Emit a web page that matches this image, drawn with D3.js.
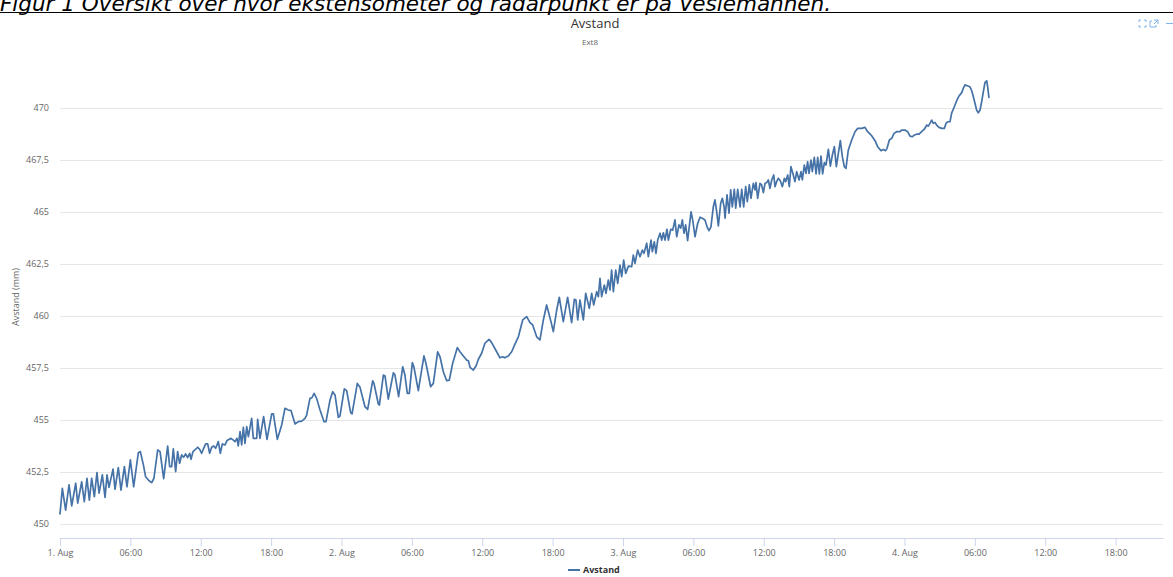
<!DOCTYPE html>
<html>
<head>
<meta charset="utf-8">
<script src="https://cdn.jsdelivr.net/npm/d3@7"></script>
<style>
  body { margin: 0; background: #fff; }
  svg text { font-family: "Open Sans", "DejaVu Sans", sans-serif; }
</style>
</head>
<body>
<script>
const width = 1173;
const height = 577;
const margin = { top: 56, right: 10, bottom: 39, left: 60 };

const startTime = new Date(2019, 7, 1, 0, 0);   // 1. Aug 00:00
const endHours = 94.04;                          // x axis runs to about 4. Aug 22:00
const yMin = 449.327;
const yMax = 472.5;
const yTicks = [450, 452.5, 455, 457.5, 460, 462.5, 465, 467.5, 470];

const chartTitle = 'Avstand';
const chartSubtitle = 'Ext8';
const yTitle = 'Avstand (mm)';
const seriesName = 'Avstand';
const caption = 'Figur 1 Oversikt over hvor ekstensometer og radarpunkt er på Veslemannen.';

// [hours after 1. Aug 00:00, avstand (mm)]
const avstand = [
  [0.00,450.48],[0.20,451.71],[0.48,450.67],[0.77,451.88],[1.00,450.87],[1.34,451.96],[1.51,451.00],[1.85,452.03],
  [2.07,451.07],[2.30,452.20],[2.50,451.15],[2.70,452.20],[2.93,451.31],[3.15,452.47],[3.33,451.48],[3.61,452.36],
  [3.84,451.28],[4.01,452.36],[4.18,451.76],[4.52,452.64],[4.69,451.67],[4.97,452.71],[5.20,451.63],[5.49,452.76],
  [5.71,451.79],[6.00,453.08],[6.28,451.79],[6.68,453.43],[6.85,453.48],[7.11,452.84],[7.30,452.27],[7.59,452.08],
  [7.82,451.99],[8.01,452.20],[8.33,453.56],[8.53,453.48],[8.84,452.18],[9.18,453.75],[9.35,452.76],[9.52,452.76],
  [9.66,453.61],[9.86,452.52],[10.03,453.48],[10.20,452.92],[10.37,453.32],[10.54,453.21],[10.71,453.37],[10.88,453.19],
  [11.06,453.40],[11.17,453.11],[11.34,453.48],[11.74,453.69],[11.91,453.59],[12.08,453.40],[12.25,453.64],[12.42,453.85],
  [12.59,453.85],[12.76,453.40],[12.93,453.69],[13.10,453.75],[13.27,453.64],[13.50,453.96],[13.67,453.40],[13.84,453.85],
  [14.07,453.80],[14.24,454.01],[14.58,454.12],[14.75,454.04],[14.92,453.96],[15.09,454.12],[15.20,453.75],[15.35,454.44],
  [15.49,453.80],[15.63,454.65],[15.77,453.88],[15.92,454.68],[16.06,454.20],[16.34,455.08],[16.48,454.12],[16.77,454.12],
  [16.85,455.03],[17.05,454.12],[17.36,455.16],[17.65,454.07],[18.05,455.29],[18.19,455.29],[18.53,454.07],[18.90,454.76],
  [19.18,455.56],[19.47,455.48],[19.70,455.45],[20.04,454.81],[20.32,454.92],[20.61,454.95],[20.89,455.08],
  [21.03,455.24],[21.31,456.04],[21.48,456.07],[21.66,456.28],[21.88,456.04],[22.17,455.48],[22.51,454.92],[22.68,454.92],
  [23.02,455.96],[23.25,456.36],[23.45,456.20],[23.73,455.13],[23.87,455.19],[24.24,456.50],[24.44,456.41],[24.78,455.35],
  [24.90,455.29],[25.35,456.76],[25.58,456.57],[26.00,455.64],[26.23,455.51],[26.66,456.88],[26.77,456.76],[27.14,455.77],
  [27.23,455.72],[27.57,457.16],[27.71,457.12],[27.99,456.00],[28.42,457.27],[28.56,457.16],[28.87,456.12],[29.22,457.56],
  [29.41,457.16],[29.61,456.28],[29.78,456.28],[30.04,457.76],[30.18,457.53],[30.55,456.41],[31.03,458.08],[31.20,457.73],
  [31.60,456.60],[31.83,456.76],[32.20,458.28],[32.40,458.04],[32.68,457.32],[32.97,456.89],[33.19,456.92],[33.48,457.73],
  [33.88,458.48],[34.10,458.28],[34.39,458.08],[34.67,457.88],[34.82,457.85],[34.96,457.53],[35.24,457.40],[35.47,457.60],
  [35.67,457.92],[35.95,458.21],[36.23,458.69],[36.58,458.88],[36.80,458.72],[37.23,458.28],[37.51,457.99],[37.74,458.04],
  [37.91,457.99],[38.22,458.08],[38.51,458.28],[38.79,458.65],[39.08,459.00],[39.45,459.81],[39.79,459.97],[40.07,459.68],
  [40.30,459.57],[40.64,459.00],[40.92,458.85],[41.21,459.81],
  [41.49,460.53],[41.86,459.73],[42.06,459.25],[42.35,460.29],[42.57,460.90],[42.91,459.73],[43.28,460.90],[43.62,459.68],
  [43.85,460.80],[43.99,460.77],[44.14,459.81],[44.33,460.77],[44.62,459.81],[44.82,461.09],[45.13,460.37],[45.33,461.09],
  [45.50,460.53],[45.76,461.17],[45.90,460.93],[46.04,461.81],[46.18,460.93],[46.41,461.49],[46.55,461.09],[46.75,461.73],
  [46.89,461.25],[47.03,462.21],[47.18,461.17],[47.38,462.21],[47.55,461.57],[47.74,462.45],[47.89,461.89],[48.06,462.69],
  [48.23,462.05],[48.46,462.40],[48.74,462.37],[48.88,462.93],[49.02,462.53],[49.25,463.17],[49.45,462.85],[49.65,463.17],
  [49.79,463.01],[50.02,463.50],[50.16,462.85],[50.39,463.65],[50.50,463.09],[50.67,463.57],[50.81,463.01],[50.96,463.65],
  [51.16,463.98],[51.30,463.65],[51.44,464.00],[51.58,463.65],[51.75,464.17],[51.87,463.65],[52.07,464.17],[52.24,464.13],
  [52.43,464.62],[52.58,463.81],[52.77,464.38],[52.92,464.22],[53.06,464.62],[53.20,463.98],[53.34,464.38],[53.51,463.62],
  [53.80,465.01],[53.94,464.62],[54.14,463.81],[54.37,464.46],[54.57,464.75],[54.76,464.70],[54.99,464.62],[55.19,464.26],
  [55.33,464.10],[55.50,464.29],[55.70,465.25],[55.84,465.58],[55.99,465.01],[56.13,464.33],[56.33,465.42],[56.47,465.66],
  [56.62,465.25],[56.70,464.70],[56.87,465.82],[57.04,464.94],[57.18,466.06],[57.32,465.25],[57.49,466.09],[57.61,465.18],
  [57.78,466.09],[57.98,465.25],[58.12,466.09],[58.29,465.25],[58.46,466.22],[58.60,465.50],[58.77,466.30],[58.91,465.66],
  [59.11,466.38],[59.26,466.06],[59.34,466.41],[59.48,465.66],[59.68,466.38],[59.82,466.30],[59.97,465.93],[60.11,466.38],
  [60.25,466.41],[60.39,466.54],[60.53,466.14],[60.68,466.54],[60.85,466.78],[60.96,466.22],[61.10,466.46],[61.24,466.62],
  [61.41,466.50],[61.59,466.22],[61.76,466.62],[61.87,466.46],[62.04,466.78],[62.18,466.22],[62.32,467.18],[62.52,466.78],
  [62.66,466.46],[62.81,466.94],
  [63.01,466.54],[63.18,466.94],[63.29,466.54],[63.46,467.26],[63.60,466.86],[63.74,467.42],[63.86,466.86],[64.03,467.50],
  [64.14,466.94],[64.31,467.63],[64.46,466.83],[64.60,467.63],[64.74,466.83],[64.88,467.69],[65.02,466.83],[65.17,467.37],
  [65.31,467.26],[65.51,468.01],[65.68,467.21],[65.85,467.74],[66.02,468.14],[66.19,467.18],[66.36,467.82],[66.53,468.43],
  [66.70,467.66],[66.87,467.18],[67.01,467.10],[67.21,467.98],[67.50,468.46],[67.78,468.86],[68.01,469.02],[68.35,469.02],
  [68.63,469.07],[68.86,468.86],[69.20,468.67],[69.49,468.43],[69.71,468.14],[70.00,467.95],[70.19,468.01],[70.39,467.95],
  [70.51,468.06],[70.71,468.46],[70.91,468.54],[71.11,468.78],[71.33,468.86],[71.62,468.86],[71.76,468.94],[72.04,468.94],
  [72.27,468.86],[72.47,468.65],[72.67,468.62],[72.84,468.70],[73.04,468.74],[73.24,468.74],[73.46,468.86],[73.69,468.98],
  [73.89,469.18],[74.03,469.13],[74.17,469.26],[74.32,469.42],[74.46,469.26],[74.60,469.31],[74.74,469.18],[74.94,469.07],
  [75.17,469.02],[75.40,469.02],[75.54,469.26],[75.68,469.34],[75.88,469.34],[76.02,469.75],[76.25,470.06],[76.45,470.35],
  [76.65,470.58],[76.88,470.74],[77.02,470.95],[77.16,471.11],[77.39,471.06],[77.58,471.02],[77.73,470.83],[77.87,470.54],
  [78.01,470.23],[78.15,469.90],[78.29,469.77],[78.44,469.90],[78.58,470.30],[78.72,470.78],[78.86,471.22],[79.01,471.31],
  [79.09,471.02],[79.20,470.51]
];

const lineColor = '#4572a7';
const axisColor = '#ccd6eb';
const gridColor = '#e6e6e6';
const labelColor = '#666666';

const svg = d3.select('body').append('svg')
    .attr('width', width)
    .attr('height', height);

// caption from the surrounding document, cut off at the top like in the source
svg.append('text')
    .attr('x', 0)
    .attr('y', 11)
    .style('font-family', '"DejaVu Sans", sans-serif')
    .style('font-style', 'italic')
    .attr('font-size', '21.5px')
    .attr('fill', '#000')
    .text(caption);

svg.append('line')
    .attr('x1', 0).attr('x2', width)
    .attr('y1', 12.5).attr('y2', 12.5)
    .attr('stroke', '#000')
    .attr('stroke-width', 1);

const hourToDate = h => new Date(+startTime + h * 3600 * 1000);

const x = d3.scaleTime()
    .domain([startTime, hourToDate(endHours)])
    .range([margin.left, width - margin.right]);

const y = d3.scaleLinear()
    .domain([yMin, yMax])
    .range([height - margin.bottom, margin.top]);

const nb = d3.formatLocale({ decimal: ',', thousands: ' ', grouping: [3], currency: ['', ' kr'] });
const yFormat = nb.format('.1~f');

// grid + y labels
const yAxis = svg.append('g')
    .attr('transform', `translate(${margin.left},0)`)
    .call(d3.axisLeft(y)
        .tickValues(yTicks)
        .tickSize(-(width - margin.left - margin.right))
        .tickPadding(11)
        .tickFormat(yFormat));
yAxis.select('.domain').remove();
yAxis.selectAll('.tick line').attr('stroke', gridColor);
yAxis.selectAll('.tick text')
    .attr('fill', labelColor)
    .style('font-size', '9px');

// x axis
const xAxis = svg.append('g')
    .attr('transform', `translate(0,${height - margin.bottom})`)
    .call(d3.axisBottom(x)
        .ticks(d3.timeHour.every(6))
        .tickSize(8)
        .tickPadding(4)
        .tickSizeOuter(0)
        .tickFormat(d => d.getHours() === 0 ? `${d.getDate()}. Aug` : d3.timeFormat('%H:%M')(d)));
xAxis.select('.domain').attr('stroke', axisColor);
xAxis.selectAll('.tick line').attr('stroke', axisColor);
xAxis.selectAll('.tick text')
    .attr('fill', labelColor)
    .style('font-size', '9px');

// the series
const line = d3.line()
    .x(d => x(hourToDate(d[0])))
    .y(d => y(d[1]));

svg.append('path')
    .datum(avstand)
    .attr('d', line)
    .attr('fill', 'none')
    .attr('stroke', lineColor)
    .attr('stroke-width', 1.7)
    .attr('stroke-linejoin', 'round')
    .attr('stroke-linecap', 'round');

// titles
svg.append('text')
    .attr('x', 595)
    .attr('y', 28)
    .attr('text-anchor', 'middle')
    .attr('font-size', '13px')
    .attr('fill', '#333333')
    .text(chartTitle);

svg.append('text')
    .attr('x', 590)
    .attr('y', 45)
    .attr('text-anchor', 'middle')
    .attr('font-size', '8px')
    .attr('fill', labelColor)
    .text(chartSubtitle);

svg.append('text')
    .attr('transform', `translate(19,${(margin.top + height - margin.bottom) / 2}) rotate(-90)`)
    .attr('text-anchor', 'middle')
    .attr('font-size', '9px')
    .attr('fill', labelColor)
    .text(yTitle);

// legend
const legend = svg.append('g').attr('transform', 'translate(568,570)');
legend.append('line')
    .attr('x1', 0).attr('x2', 12)
    .attr('stroke', lineColor)
    .attr('stroke-width', 2);
legend.append('text')
    .attr('x', 15)
    .attr('y', 3)
    .attr('font-size', '9px')
    .attr('font-weight', 'bold')
    .attr('fill', '#333333')
    .text(seriesName);

// small export / fullscreen buttons in the top right corner
const icons = svg.append('g')
    .attr('fill', 'none')
    .attr('stroke', '#7cb5ec')
    .attr('stroke-width', 1);
icons.append('path').attr('d', 'M1139,20 h2 M1139,20 v2 M1146,20 h-2 M1146,20 v2 M1139,27 h2 M1139,27 v-2 M1146,27 h-2 M1146,27 v-2');
icons.append('path').attr('d', 'M1152,21 h-2 v6 h6 v-2 M1154,20 h4 v4 M1158,20 l-4,4');
icons.append('path').attr('d', 'M1166,23.5 h7');
</script>
</body>
</html>
